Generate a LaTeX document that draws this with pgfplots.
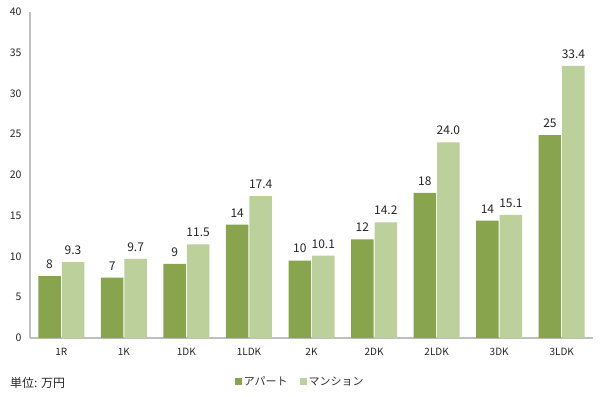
\documentclass[border=0pt]{standalone}
\usepackage{pgfplots}
\pgfplotsset{compat=1.18}
\usepackage{fontspec}
\setmainfont{Noto Sans CJK JP}
\definecolor{darkg}{HTML}{88A44D}
\definecolor{lightg}{HTML}{BBD09A}
\definecolor{axgray}{HTML}{BFBFBF}
\begin{document}
\begin{tikzpicture}
\begin{axis}[
  name=ax,
  scale only axis,
  width=563bp, height=326bp,
  xmin=-0.5, xmax=8.5,
  ymin=0, ymax=40,
  ytick={0,5,...,40},
  xtick={0,...,8},
  xticklabels={1R,1K,1DK,1LDK,2K,2DK,2LDK,3DK,3LDK},
  axis x line*=bottom,
  axis y line*=left,
  axis line style={axgray, line width=1.2bp},
  major tick length=0pt,
  /pgf/number format/assume math mode=true,
  yticklabel style={font=\fontsize{10.5bp}{12bp}\selectfont, xshift=-5bp, text=black!85},
  xticklabel style={font=\fontsize{10bp}{12bp}\selectfont, yshift=-7bp, text=black!85},
  ybar=1bp,
  bar width=22.5bp,
  enlarge x limits=false,
  nodes near coords,
  point meta=explicit symbolic,
  nodes near coords style={font=\fontsize{12bp}{14bp}\selectfont, yshift=4bp, text=black!85},
  legend style={draw=none, at={(0.48,-0.135)}, anchor=center, legend columns=2,
    font=\fontsize{11bp}{13bp}\selectfont, text=black!80,
    /tikz/every even column/.append style={column sep=10bp}},
  legend image code/.code={\fill[#1] (0bp,-3bp) rectangle (7bp,4bp);},
]
\addplot[fill=darkg, draw=none] coordinates {
(0,7.6) [8] (1,7.4) [7] (2,9.1) [9] (3,13.9) [14] (4,9.5) [10]
(5,12.1) [12] (6,17.8) [18] (7,14.4) [14] (8,24.9) [25]};
\addplot[fill=lightg, draw=none] coordinates {
(0,9.3) [9.3] (1,9.7) [9.7] (2,11.5) [11.5] (3,17.4) [17.4] (4,10.1) [10.1]
(5,14.2) [14.2] (6,24.0) [24.0] (7,15.1) [15.1] (8,33.4) [33.4]};
\legend{アパート,マンション}
\end{axis}
\node[anchor=west, font=\fontsize{12bp}{14bp}\selectfont, inner sep=0pt, text=black!85] at ([xshift=-20bp,yshift=-45bp]ax.south west) {単位: 万円};
\pgfresetboundingbox
\path ([xshift=-30bp,yshift=-59bp]ax.south west) rectangle ([xshift=570bp,yshift=338bp]ax.south west);
\end{tikzpicture}
\end{document}
